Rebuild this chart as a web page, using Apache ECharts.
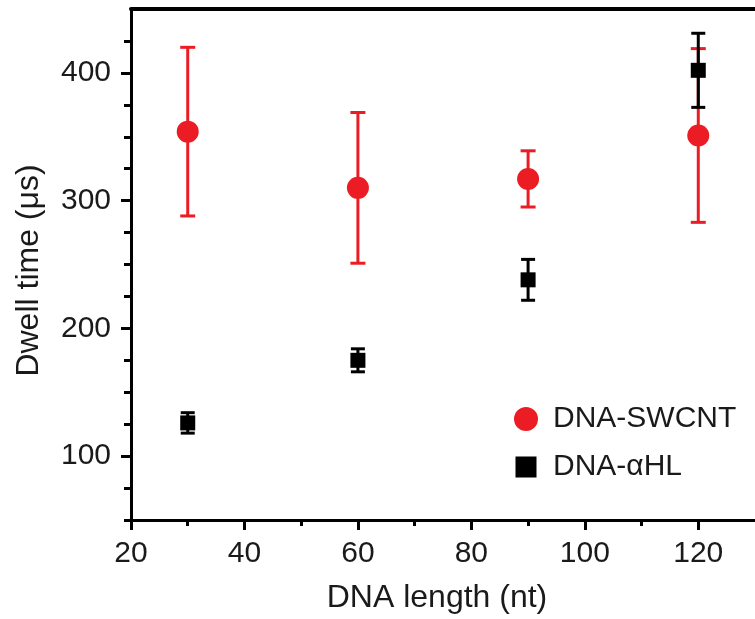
<!DOCTYPE html>
<html><head><meta charset="utf-8">
<script src="https://cdn.jsdelivr.net/npm/echarts@6/dist/echarts.min.js"></script>
<style>html,body{margin:0;background:#fff}#c{width:755px;height:619px}</style>
</head><body><div id="c"></div>
<script>
// DNA length (nt) and dwell times (us) with error bars
const lengths = [30, 60, 90, 120];
const swcntMean = [354, 310, 317, 351];
const swcntErr = [66, 59, 22, 68];
const ahlMean = [126, 175, 238, 402];
const ahlErr = [8, 9, 16, 29];
const xMajor = [20, 40, 60, 80, 100, 120];
const xMinor = [30, 50, 70, 90, 110];
const yMajor = [100, 200, 300, 400];
const yMinor = [50, 75, 125, 150, 175, 225, 250, 275, 325, 350, 375, 425];

const FONT = "'Liberation Sans', Arial, sans-serif";
const RED = '#ec1c24', BLK = '#000';
const TXT = '#1a1a1a';
const SQ = "image://data:image/svg+xml;charset=utf-8," + encodeURIComponent(
  "<svg xmlns='http://www.w3.org/2000/svg' width='24' height='24'><rect x='1.5' y='1.5' width='21' height='21' fill='black'/></svg>");

function errBars(name, mean, err, color, cap, z){
  return {
    type:'custom', name, z, silent:true, xAxisIndex:0, yAxisIndex:0,
    data: lengths.map((x,i)=>[x, mean[i]-err[i], mean[i]+err[i]]),
    renderItem:(p, api)=>{
      const lo = api.coord([api.value(0), api.value(1)]);
      const hi = api.coord([api.value(0), api.value(2)]);
      const st = {stroke:color, lineWidth:3};
      return {type:'group', children:[
        {type:'line', shape:{x1:lo[0],y1:lo[1],x2:hi[0],y2:hi[1]}, style:st},
        {type:'line', shape:{x1:lo[0]-cap/2,y1:lo[1],x2:lo[0]+cap/2,y2:lo[1]}, style:st},
        {type:'line', shape:{x1:hi[0]-cap/2,y1:hi[1],x2:hi[0]+cap/2,y2:hi[1]}, style:st}
      ]};
    }
  };
}

const AXL = {show:true, onZero:false, lineStyle:{color:BLK, width:3}};
const LBL = {color:TXT, fontSize:30, fontFamily:FONT};

const ch = echarts.init(document.getElementById('c'), null, {renderer:'canvas'});
ch.setOption({
  animation:false,
  textStyle:{fontFamily:FONT},
  grid:{left:131, right:-9, top:9, bottom:99},
  xAxis:[
    {type:'value', position:'bottom', min:20, max:130, axisLine:AXL,
     axisTick:{show:true, customValues:xMajor, length:10, lineStyle:{width:3,color:BLK}},
     axisLabel:{...LBL, customValues:xMajor, margin:19},
     splitLine:{show:false},
     name:'DNA length (nt)', nameLocation:'middle', nameGap:62,
     nameTextStyle:{color:TXT, fontSize:32, fontFamily:FONT, padding:[0,12,0,0]}},
    {type:'value', position:'bottom', min:20, max:130, axisLine:{show:false},
     axisTick:{show:true, customValues:xMinor, length:6, lineStyle:{width:3,color:BLK}},
     axisLabel:{show:false}, splitLine:{show:false}},
    {type:'value', position:'top', min:20, max:130,
     axisLine:{show:true, onZero:false, lineStyle:{color:BLK, width:4}},
     axisTick:{show:false}, axisLabel:{show:false}, splitLine:{show:false}}
  ],
  yAxis:[
    {type:'value', position:'left', min:50, max:450, axisLine:AXL,
     axisTick:{show:true, customValues:yMajor, length:10, lineStyle:{width:3,color:BLK}},
     axisLabel:{...LBL, customValues:yMajor, margin:20},
     splitLine:{show:false},
     name:'Dwell time (\u03bcs)', nameLocation:'middle', nameGap:86,
     nameTextStyle:{color:TXT, fontSize:32, fontFamily:FONT, padding:[0,12,0,0]}},
    {type:'value', position:'left', min:50, max:450, axisLine:{show:false},
     axisTick:{show:true, customValues:yMinor, length:7, lineStyle:{width:3,color:BLK}},
     axisLabel:{show:false}, splitLine:{show:false}}
  ],
  legend:{orient:'vertical', left:509, top:399, itemGap:18, itemWidth:24, itemHeight:24,
    textStyle:{color:TXT, fontSize:30, fontFamily:FONT, padding:[0,0,0,10]},
    data:[{name:'DNA-SWCNT', icon:'circle'}, {name:'DNA-\u03b1HL', icon:SQ}]},
  series:[
    errBars('swcnt-err', swcntMean, swcntErr, RED, 15, 2),
    {type:'scatter', name:'DNA-SWCNT', z:3, symbol:'circle', symbolSize:22,
     itemStyle:{color:RED, opacity:1},
     data: lengths.map((x,i)=>[x, swcntMean[i]])},
    errBars('ahl-err', ahlMean, ahlErr, BLK, 14, 4),
    {type:'scatter', name:'DNA-\u03b1HL', z:5, symbol:'rect', symbolSize:15,
     itemStyle:{color:BLK, opacity:1},
     data: lengths.map((x,i)=>[x, ahlMean[i]])}
  ]
});
</script></body></html>
